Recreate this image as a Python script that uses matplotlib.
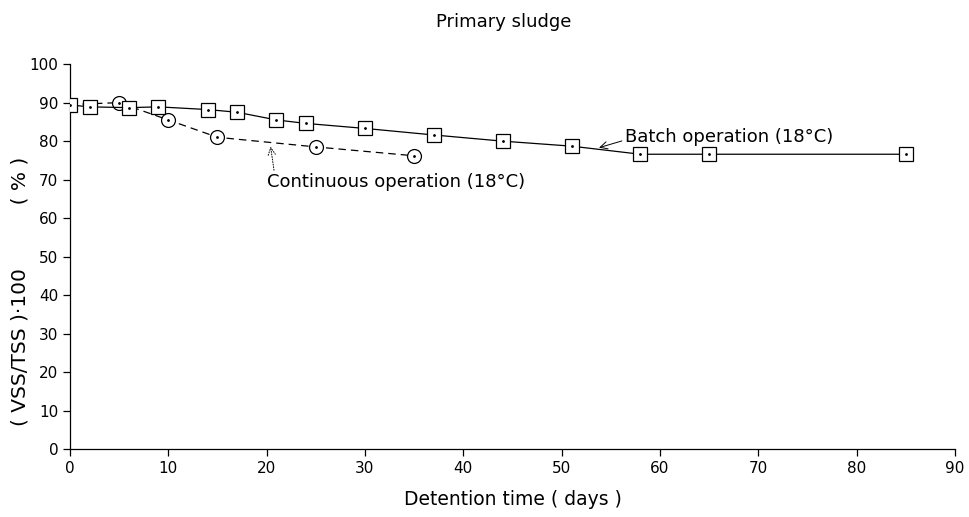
import matplotlib.pyplot as plt

# batch operation (squares, solid)
batch_days = [0, 2, 6, 9, 14, 17, 21, 24, 30, 37, 44, 51, 58, 65, 85]
batch_ratio = [89.4, 88.9, 88.7, 88.9, 88.2, 87.5, 85.5, 84.6, 83.3, 81.6, 80.0, 78.7, 76.6, 76.6, 76.6]

# continuous operation (circles, dashed)
cont_days = [0, 5, 10, 15, 25, 35]
cont_ratio = [89.5, 90.0, 85.5, 81.0, 78.5, 76.2]

x_ticks = [0, 10, 20, 30, 40, 50, 60, 70, 80, 90]
y_ticks = [0, 10, 20, 30, 40, 50, 60, 70, 80, 90, 100]

plt.rcParams['font.family'] = ['DejaVu Sans']

fig = plt.figure(figsize=(9.69, 5.17), dpi=100)
ax = fig.add_axes([0.0722, 0.131, 0.9134, 0.745])

ax.plot(cont_days, cont_ratio, color='black', lw=0.9, ls=(0, (6, 4)),
        marker='o', ms=10, mfc='white', mec='black', mew=0.9, zorder=3)
ax.plot(cont_days, cont_ratio, ls='none', marker='.', ms=2, color='black', zorder=4)

ax.plot(batch_days, batch_ratio, color='black', lw=0.9,
        marker='s', ms=10, mfc='white', mec='black', mew=0.9, zorder=5)
ax.plot(batch_days, batch_ratio, ls='none', marker='.', ms=2, color='black', zorder=6)

ax.annotate('Batch operation (18°C)', xy=(53.8, 78.3), xytext=(56.4, 81.2),
            ha='left', va='center', fontsize=13,
            arrowprops=dict(arrowstyle='->', color='black', lw=0.7,
                            relpos=(0.0, 0.3), shrinkA=0, shrinkB=0))
ax.annotate('Continuous operation (18°C)', xy=(20.4, 78.6), xytext=(20.0, 69.4),
            ha='left', va='center', fontsize=13,
            arrowprops=dict(arrowstyle='->', color='black', lw=0.7, ls=':',
                            relpos=(0.03, 1.0), shrinkA=0, shrinkB=0))

ax.set_xlim(0, 90)
ax.set_ylim(0, 100)
ax.set_xticks(x_ticks)
ax.set_yticks(y_ticks)
ax.spines['top'].set_visible(False)
ax.spines['right'].set_visible(False)
ax.spines['left'].set_linewidth(0.9)
ax.spines['bottom'].set_linewidth(0.9)
ax.tick_params(direction='out', length=5, width=0.9, labelsize=11)
ax.set_xlabel('Detention time ( days )', fontsize=13.5, labelpad=10)
ax.set_ylabel('( VSS/TSS )·100          ( % )', fontsize=14.5)
ax.yaxis.set_label_coords(-0.046, 0.41)
fig.suptitle('Primary sludge', x=0.52, y=0.975, fontsize=13)

plt.savefig('out.png', dpi=100)
